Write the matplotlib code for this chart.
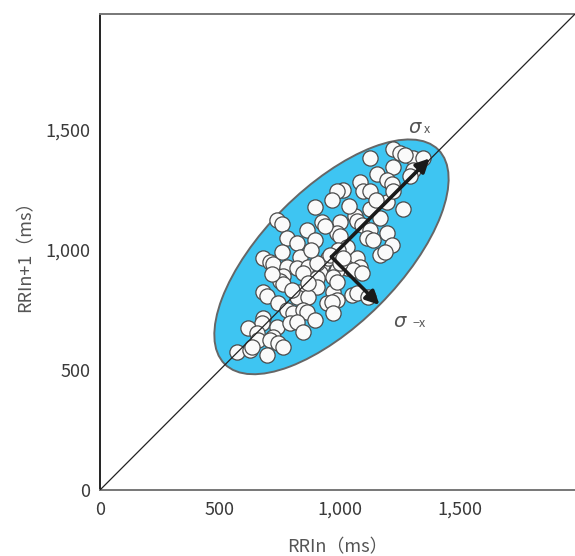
import matplotlib.pyplot as plt
from matplotlib.patches import Ellipse

# ==============================
# DATA (ms)
# ==============================

rr_n = [
    1221, 1250, 1125, 1304, 1346, 1221, 1154, 1304, 1292, 1083,
    1096, 1125, 1013, 988, 1196, 1217, 967, 1196, 1221, 1262,
    896, 1125, 1167, 1063, 1071, 1000, 738, 758, 925, 1092,
    1125, 863, 1196, 988, 1000, 1113, 1138, 779, 821, 896,
    1217, 1029, 992, 1167, 679, 708, 721, 833, 758, 925,
    950, 1071, 1083, 779, 821, 867, 846, 1029, 763, 750,
    917, 904, 988, 971, 1054, 763, 904, 679, 696, 833,
    821, 971, 1050, 1071, 988, 742, 867, 779, 804, 946,
    967, 1117, 846, 863, 971, 679, 675, 738, 792, 821,
    896, 617, 654, 658, 721, 708, 846, 742, 763, 571,
    625, 633, 696, 904, 958, 1000, 1092, 1188, 988, 867,
    800, 1013, 1270, 1040, 880, 715, 1150, 940,
]
rr_n1 = [
    1417, 1404, 1383, 1383, 1383, 1342, 1313, 1333, 1308, 1283,
    1242, 1242, 1250, 1242, 1288, 1275, 1208, 1200, 1242, 1167,
    1179, 1167, 1133, 1138, 1121, 1117, 1125, 1108, 1113, 1104,
    1083, 1083, 1071, 1071, 1058, 1050, 1042, 1050, 1029, 1042,
    1021, 1013, 1000, 979, 967, 950, 942, 971, 992, 938,
    967, 967, 929, 929, 925, 929, 904, 925, 892, 871,
    904, 883, 917, 888, 917, 858, 846, 825, 808, 825,
    804, 825, 813, 821, 792, 779, 804, 750, 738, 779,
    783, 804, 750, 742, 738, 717, 696, 679, 696, 700,
    708, 675, 654, 625, 638, 625, 658, 613, 596, 575,
    583, 596, 563, 946, 979, 946, 904, 992, 867, 863,
    833, 967, 1395, 1180, 1000, 900, 1205, 1100,
]

centre = (965, 970)
sd1 = 630   # long axis (sigma x)
sd2 = 283   # short axis (sigma -x)

x_ticks = [0, 500, 1000, 1500]
y_ticks = [0, 500, 1000, 1500]
tick_labels = ["0", "500", "1,000", "1,500"]

# ==============================
# PLOT
# ==============================

plt.rcParams['font.family'] = ['Noto Sans CJK JP', 'DejaVu Sans']

fig = plt.figure(figsize=(5.75, 5.56), dpi=100)
ax = fig.add_axes([0.1739, 0.1187, 0.826, 0.856])

lim = 1980
ax.set_xlim(0, lim)
ax.set_ylim(0, lim)

ell = Ellipse(centre, 2 * sd1, 2 * sd2, angle=45,
              facecolor='#3ec5f2', edgecolor='#666666', lw=1.4, zorder=1)
ax.add_patch(ell)

ax.scatter(rr_n, rr_n1, s=120, facecolor='#fafafa', edgecolor='#4a4a4a',
           linewidths=0.9, zorder=2)

# identity line
ax.plot([0, lim], [0, lim], color='#222222', lw=0.9, zorder=3)

# axes of the ellipse
tip_long = (centre[0] + sd1 * 0.65, centre[1] + sd1 * 0.65)
tip_short = (centre[0] + sd2 * 0.707, centre[1] - sd2 * 0.707)
for tip in (tip_long, tip_short):
    ax.annotate("", xy=tip, xytext=centre,
                arrowprops=dict(arrowstyle='-|>', lw=2.6, color='#1a1a1a',
                                mutation_scale=20, shrinkA=0, shrinkB=0),
                zorder=4)

ax.text(1310, 1508, "σ", fontsize=14, style='italic', color='#555555',
        family='DejaVu Sans', ha='center', va='center')
ax.text(1365, 1500, "x", fontsize=9, color='#555555', ha='center', va='center')
ax.text(1250, 700, "σ", fontsize=14, style='italic', color='#555555',
        family='DejaVu Sans', ha='center', va='center')
ax.text(1330, 692, "−x", fontsize=9, color='#555555', ha='center', va='center')

ax.set_xticks(x_ticks)
ax.set_xticklabels(tick_labels)
ax.set_yticks(y_ticks)
ax.set_yticklabels(tick_labels)
ax.tick_params(length=0, labelsize=13, colors='#3a3a3a')
ax.tick_params(axis='x', pad=8)
ax.tick_params(axis='y', pad=7)

ax.spines['right'].set_visible(False)
ax.spines['top'].set_color('#777777')
ax.spines['bottom'].set_color('#777777')
ax.spines['left'].set_color('#222222')
for side in ('top', 'bottom', 'left'):
    ax.spines[side].set_linewidth(1.4)

ax.set_xlabel("RRIn（ms）", fontsize=13, color='#555555', labelpad=14)
ax.set_ylabel("RRIn+1（ms）", fontsize=13, color='#555555', labelpad=8)

fig.savefig("out.png", dpi=100)
